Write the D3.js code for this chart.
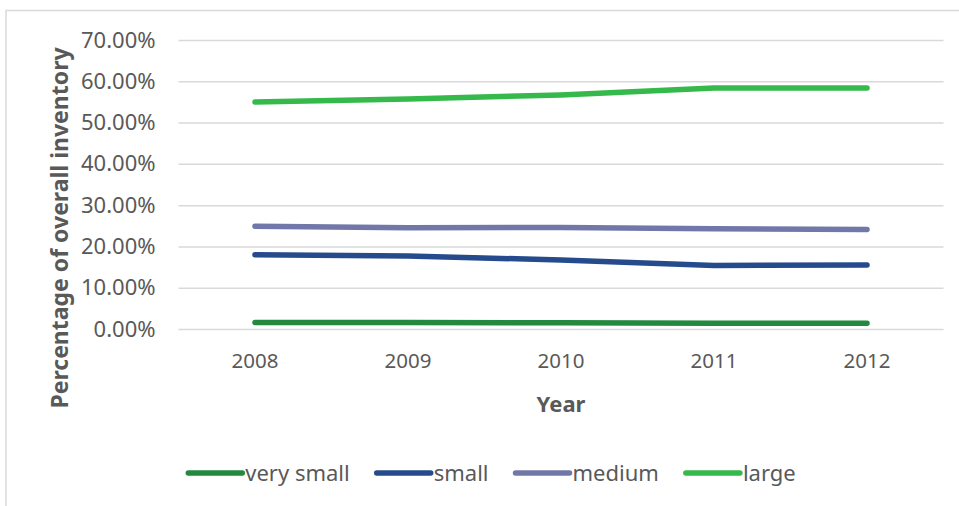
<!DOCTYPE html>
<html>
<head>
<meta charset="utf-8">
<script src="https://cdn.jsdelivr.net/npm/d3@7"></script>
<style>
  body { margin: 0; background: #fff; }
  text { font-family: "Noto Sans", sans-serif; fill: #595959; }
</style>
</head>
<body>
<svg id="chart" width="959" height="506"></svg>
<script>
const years = ['2008', '2009', '2010', '2011', '2012']
const verySmall = [1.6, 1.6, 1.5, 1.4, 1.4]
const small = [18.0, 17.7, 16.7, 15.4, 15.5]
const medium = [24.9, 24.5, 24.6, 24.3, 24.1]
const large = [55.0, 55.7, 56.7, 58.4, 58.4]
const yTicks = [0, 10, 20, 30, 40, 50, 60, 70]

const series = [
  { name: 'very small', values: verySmall, color: '#23893f' },
  { name: 'small', values: small, color: '#264b8c' },
  { name: 'medium', values: medium, color: '#7178a9' },
  { name: 'large', values: large, color: '#35b94b' }
]

const svg = d3.select('#chart')
const margin = { left: 178.5, right: 943.5, top: 40, bottom: 329 }

// chart frame
svg.append('path')
  .attr('d', 'M6,506V10.5H959')
  .attr('fill', 'none')
  .attr('stroke', '#d9d9d9')
  .attr('stroke-width', 1.5)

const x = d3.scaleBand()
  .domain(years)
  .range([margin.left, margin.right])

const y = d3.scaleLinear()
  .domain([0, 70])
  .range([margin.bottom, margin.top])

// gridlines + y labels
const yAxis = d3.axisLeft(y)
  .tickValues(yTicks)
  .tickSize(-(margin.right - margin.left))
  .tickPadding(23)
  .tickFormat(d => d.toFixed(2) + '%')

svg.append('g')
  .attr('transform', `translate(${margin.left},0)`)
  .call(yAxis)
  .call(g => g.select('.domain').remove())
  .call(g => g.selectAll('.tick line').attr('stroke', '#d9d9d9').attr('stroke-width', 1.5))
  .call(g => g.selectAll('.tick text')
    .attr('font-size', 22)
    .attr('fill', '#595959')
    .style('font-family', '"Noto Sans", sans-serif'))

// x labels
const xAxis = d3.axisBottom(x).tickSize(0).tickPadding(24)
svg.append('g')
  .attr('transform', `translate(0,${margin.bottom})`)
  .call(xAxis)
  .call(g => g.select('.domain').remove())
  .call(g => g.selectAll('.tick text')
    .attr('font-size', 20.5)
    .attr('fill', '#595959')
    .style('font-family', '"Noto Sans", sans-serif'))

// axis titles
svg.append('text')
  .attr('x', (margin.left + margin.right) / 2)
  .attr('y', 412)
  .attr('text-anchor', 'middle')
  .attr('font-size', 22)
  .attr('font-weight', 'bold')
  .text('Year')

svg.append('text')
  .attr('transform', 'translate(68,228) rotate(-90)')
  .attr('text-anchor', 'middle')
  .attr('font-size', 23)
  .attr('font-weight', 'bold')
  .text('Percentage of overall inventory')

// lines
const line = d3.line()
  .x((d, i) => x(years[i]) + x.bandwidth() / 2)
  .y(d => y(d))

svg.append('g')
  .selectAll('path')
  .data(series)
  .join('path')
  .attr('d', d => line(d.values))
  .attr('fill', 'none')
  .attr('stroke', d => d.color)
  .attr('stroke-width', 5.5)
  .attr('stroke-linecap', 'round')
  .attr('stroke-linejoin', 'round')

// legend
const legend = svg.append('g')
const items = legend.selectAll('g')
  .data(series)
  .join('g')

items.append('line')
  .attr('x1', 0)
  .attr('x2', 54)
  .attr('y1', 0)
  .attr('y2', 0)
  .attr('stroke', d => d.color)
  .attr('stroke-width', 5.5)
  .attr('stroke-linecap', 'round')

items.append('text')
  .attr('x', 57)
  .attr('y', 8)
  .attr('font-size', 22)
  .text(d => d.name)

let offset = 0
const widths = []
items.each(function () {
  widths.push(this.getBBox().width)
})
const gap = 27
const total = d3.sum(widths) + gap * (widths.length - 1)
offset = 492 - total / 2
items.attr('transform', (d, i) => {
  const t = `translate(${offset},473)`
  offset += widths[i] + gap
  return t
})
</script>
</body>
</html>
